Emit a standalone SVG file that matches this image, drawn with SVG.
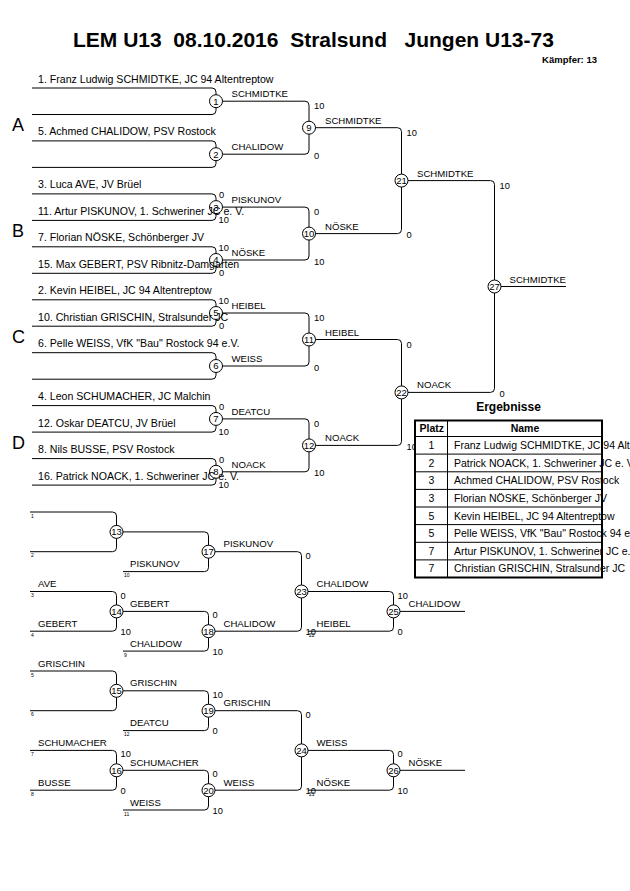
<svg xmlns="http://www.w3.org/2000/svg" width="630" height="891" viewBox="0 0 630 891">
<style>
text{font-family:"Liberation Sans",Arial,sans-serif;fill:#000}
.ln{fill:none;stroke:#000;stroke-width:1}
.nd circle{fill:#fff;stroke:#000;stroke-width:1}
.nd text{font-size:9.5px;text-anchor:middle}
.nm{font-size:10.6px}
.lb{font-size:9.6px}
.sc{font-size:9.3px}
.tn{font-size:5px}
.pool{font-size:18px}
.ttl{font-size:21px;font-weight:bold;white-space:pre}
.tb{font-size:10.5px}
.bd{font-weight:bold}
</style>
<rect width="630" height="891" fill="#fff"/>
<text class="ttl" x="73" y="47" xml:space="preserve">LEM U13  08.10.2016  Stralsund   Jungen U13-73</text>
<text class="bd" x="597" y="63" font-size="9.5" text-anchor="end">Kämpfer: 13</text>

<g id="connectors" class="ln">
<path d="M32 88H212Q216 88 216 92V110.5Q216 114.5 212 114.5H32"/>
<path d="M32 140.9H212Q216 140.9 216 144.9V163.4Q216 167.4 212 167.4H32"/>
<path d="M32 193.9H212Q216 193.9 216 197.9V216.4Q216 220.4 212 220.4H32"/>
<path d="M32 246.8H212Q216 246.8 216 250.8V269.3Q216 273.3 212 273.3H32"/>
<path d="M32 299.8H212Q216 299.8 216 303.8V322.2Q216 326.2 212 326.2H32"/>
<path d="M32 352.7H212Q216 352.7 216 356.7V375.2Q216 379.2 212 379.2H32"/>
<path d="M32 405.6H212Q216 405.6 216 409.6V428.1Q216 432.1 212 432.1H32"/>
<path d="M32 458.6H212Q216 458.6 216 462.6V481.1Q216 485.1 212 485.1H32"/>
<path d="M222 101.2H305Q309 101.2 309 105.2V150.2Q309 154.2 305 154.2H222"/>
<path d="M222 207.1H305Q309 207.1 309 211.1V256Q309 260 305 260H222"/>
<path d="M222 313H305Q309 313 309 317V362Q309 366 305 366H222"/>
<path d="M222 418.9H305Q309 418.9 309 422.9V467.8Q309 471.8 305 471.8H222"/>
<path d="M315 127.7H397.5Q401.5 127.7 401.5 131.7V229.6Q401.5 233.6 397.5 233.6H315"/>
<path d="M315 339.5H397.5Q401.5 339.5 401.5 343.5V441.4Q401.5 445.4 397.5 445.4H315"/>
<path d="M408 180.6H490.5Q494.5 180.6 494.5 184.6V388.4Q494.5 392.4 490.5 392.4H408"/>
<path d="M501 286.5H566"/>
<path d="M30 512H112.5Q116.5 512 116.5 516V547.7Q116.5 551.7 112.5 551.7H30"/>
<path d="M123 531.9H204.5Q208.5 531.9 208.5 535.9V567.6Q208.5 571.6 204.5 571.6H123"/>
<path d="M30 591.5H112.5Q116.5 591.5 116.5 595.5V627.2Q116.5 631.2 112.5 631.2H30"/>
<path d="M123 611.4H204.5Q208.5 611.4 208.5 615.4V647.1Q208.5 651.1 204.5 651.1H123"/>
<path d="M215 551.7H297.5Q301.5 551.7 301.5 555.7V627.2Q301.5 631.2 297.5 631.2H215"/>
<path d="M308 591.5H389.5Q393.5 591.5 393.5 595.5V627.2Q393.5 631.2 389.5 631.2H308"/>
<path d="M400 611.4H465"/>
<path d="M30 671H112.5Q116.5 671 116.5 675V706.7Q116.5 710.7 112.5 710.7H30"/>
<path d="M123 690.8H204.5Q208.5 690.8 208.5 694.8V726.6Q208.5 730.6 204.5 730.6H123"/>
<path d="M30 750.4H112.5Q116.5 750.4 116.5 754.4V786.2Q116.5 790.2 112.5 790.2H30"/>
<path d="M123 770.3H204.5Q208.5 770.3 208.5 774.3V806Q208.5 810 204.5 810H123"/>
<path d="M215 710.7H297.5Q301.5 710.7 301.5 714.7V786.2Q301.5 790.2 297.5 790.2H215"/>
<path d="M308 750.4H389.5Q393.5 750.4 393.5 754.4V786.2Q393.5 790.2 389.5 790.2H308"/>
<path d="M400 770.3H465"/>
</g>

<g id="nodes" class="nd">
<g id="m1"><circle cx="216" cy="101.2" r="6.5"/><text x="216" y="104.6">1</text></g>
<g id="m2"><circle cx="216" cy="154.2" r="6.5"/><text x="216" y="157.6">2</text></g>
<g id="m3"><circle cx="216" cy="207.1" r="6.5"/><text x="216" y="210.5">3</text></g>
<g id="m4"><circle cx="216" cy="260" r="6.5"/><text x="216" y="263.4">4</text></g>
<g id="m5"><circle cx="216" cy="313" r="6.5"/><text x="216" y="316.4">5</text></g>
<g id="m6"><circle cx="216" cy="366" r="6.5"/><text x="216" y="369.4">6</text></g>
<g id="m7"><circle cx="216" cy="418.9" r="6.5"/><text x="216" y="422.3">7</text></g>
<g id="m8"><circle cx="216" cy="471.8" r="6.5"/><text x="216" y="475.2">8</text></g>
<g id="m9"><circle cx="309" cy="127.7" r="6.5"/><text x="309" y="131.1">9</text></g>
<g id="m10"><circle cx="309" cy="233.6" r="6.5"/><text x="309" y="237">10</text></g>
<g id="m11"><circle cx="309" cy="339.5" r="6.5"/><text x="309" y="342.9">11</text></g>
<g id="m12"><circle cx="309" cy="445.4" r="6.5"/><text x="309" y="448.8">12</text></g>
<g id="m21"><circle cx="401.5" cy="180.6" r="6.5"/><text x="401.5" y="184">21</text></g>
<g id="m22"><circle cx="401.5" cy="392.4" r="6.5"/><text x="401.5" y="395.8">22</text></g>
<g id="m27"><circle cx="494.5" cy="286.5" r="6.5"/><text x="494.5" y="289.9">27</text></g>
<g id="m13"><circle cx="116.5" cy="531.9" r="6.5"/><text x="116.5" y="535.3">13</text></g>
<g id="m14"><circle cx="116.5" cy="611.4" r="6.5"/><text x="116.5" y="614.8">14</text></g>
<g id="m15"><circle cx="116.5" cy="690.8" r="6.5"/><text x="116.5" y="694.2">15</text></g>
<g id="m16"><circle cx="116.5" cy="770.3" r="6.5"/><text x="116.5" y="773.7">16</text></g>
<g id="m17"><circle cx="208.5" cy="551.7" r="6.5"/><text x="208.5" y="555.1">17</text></g>
<g id="m18"><circle cx="208.5" cy="631.2" r="6.5"/><text x="208.5" y="634.6">18</text></g>
<g id="m19"><circle cx="208.5" cy="710.7" r="6.5"/><text x="208.5" y="714.1">19</text></g>
<g id="m20"><circle cx="208.5" cy="790.2" r="6.5"/><text x="208.5" y="793.6">20</text></g>
<g id="m23"><circle cx="301.5" cy="591.5" r="6.5"/><text x="301.5" y="594.9">23</text></g>
<g id="m24"><circle cx="301.5" cy="750.4" r="6.5"/><text x="301.5" y="753.8">24</text></g>
<g id="m25"><circle cx="393.5" cy="611.4" r="6.5"/><text x="393.5" y="614.8">25</text></g>
<g id="m26"><circle cx="393.5" cy="770.3" r="6.5"/><text x="393.5" y="773.7">26</text></g>
</g>

<g id="pools" class="pool">
<text x="12" y="131.2">A</text>
<text x="12" y="237.1">B</text>
<text x="12" y="343">C</text>
<text x="12" y="448.9">D</text>
</g>

<g id="entries" class="nm">
<text x="38" y="82.5">1. Franz Ludwig SCHMIDTKE, JC 94 Altentreptow</text>
<text x="38" y="135.4">5. Achmed CHALIDOW, PSV Rostock</text>
<text x="38" y="188.4">3. Luca AVE, JV Brüel</text>
<text x="38" y="214.9">11. Artur PISKUNOV, 1. Schweriner JC e. V.</text>
<text x="38" y="241.3">7. Florian NÖSKE, Schönberger JV</text>
<text x="38" y="267.8">15. Max GEBERT, PSV Ribnitz-Damgarten</text>
<text x="38" y="294.3">2. Kevin HEIBEL, JC 94 Altentreptow</text>
<text x="38" y="320.7">10. Christian GRISCHIN, Stralsunder JC</text>
<text x="38" y="347.2">6. Pelle WEISS, VfK &quot;Bau&quot; Rostock 94 e.V.</text>
<text x="38" y="400.1">4. Leon SCHUMACHER, JC Malchin</text>
<text x="38" y="426.6">12. Oskar DEATCU, JV Brüel</text>
<text x="38" y="453.1">8. Nils BUSSE, PSV Rostock</text>
<text x="38" y="479.6">16. Patrick NOACK, 1. Schweriner JC e. V.</text>
</g>

<g id="winners" class="lb">
<text x="231.5" y="97.2">SCHMIDTKE</text>
<text x="231.5" y="150.2">CHALIDOW</text>
<text x="231.5" y="203.1">PISKUNOV</text>
<text x="231.5" y="256">NÖSKE</text>
<text x="231.5" y="309">HEIBEL</text>
<text x="231.5" y="362">WEISS</text>
<text x="231.5" y="414.9">DEATCU</text>
<text x="231.5" y="467.8">NOACK</text>
<text x="325" y="123.7">SCHMIDTKE</text>
<text x="325" y="229.6">NÖSKE</text>
<text x="325" y="335.5">HEIBEL</text>
<text x="325" y="441.4">NOACK</text>
<text x="417" y="176.6">SCHMIDTKE</text>
<text x="417" y="388.4">NOACK</text>
<text x="509.5" y="282.5">SCHMIDTKE</text>
<text x="38" y="587">AVE</text>
<text x="38" y="626.7">GEBERT</text>
<text x="38" y="666.5">GRISCHIN</text>
<text x="38" y="745.9">SCHUMACHER</text>
<text x="38" y="785.7">BUSSE</text>
<text x="130" y="567.1">PISKUNOV</text>
<text x="130" y="646.6">CHALIDOW</text>
<text x="130" y="726.1">DEATCU</text>
<text x="130" y="805.5">WEISS</text>
<text x="130" y="606.9">GEBERT</text>
<text x="130" y="686.3">GRISCHIN</text>
<text x="130" y="765.8">SCHUMACHER</text>
<text x="223.5" y="547.2">PISKUNOV</text>
<text x="223.5" y="626.7">CHALIDOW</text>
<text x="223.5" y="706.2">GRISCHIN</text>
<text x="223.5" y="785.7">WEISS</text>
<text x="316.5" y="587">CHALIDOW</text>
<text x="316.5" y="745.9">WEISS</text>
<text x="316.5" y="626.7">HEIBEL</text>
<text x="316.5" y="785.7">NÖSKE</text>
<text x="408.5" y="606.9">CHALIDOW</text>
<text x="408.5" y="765.8">NÖSKE</text>
</g>

<g id="scores" class="sc">
<text x="219" y="198.4">0</text><text x="218.5" y="222.9">10</text>
<text x="218.5" y="251.3">10</text><text x="219" y="275.8">0</text>
<text x="218.5" y="304.3">10</text><text x="219" y="328.7">0</text>
<text x="219" y="410.1">0</text><text x="218.5" y="434.6">10</text>
<text x="219" y="463.1">0</text><text x="218.5" y="487.6">10</text>
<text x="314" y="109.2">10</text><text x="314" y="158.7">0</text>
<text x="314" y="215.1">0</text><text x="314" y="264.5">10</text>
<text x="314" y="321">10</text><text x="314" y="370.5">0</text>
<text x="314" y="426.9">0</text><text x="314" y="476.3">10</text>
<text x="406.5" y="135.7">10</text><text x="406.5" y="238.1">0</text>
<text x="406.5" y="347.5">0</text><text x="406.5" y="449.9">10</text>
<text x="499.5" y="188.6">10</text><text x="499.5" y="396.9">0</text>
<text x="120.5" y="598.5">0</text><text x="120.5" y="634.7">10</text>
<text x="212.5" y="618.4">0</text><text x="212.5" y="654.6">10</text>
<text x="305.5" y="558.7">0</text><text x="305.5" y="634.7">10</text>
<text x="397.5" y="598.5">10</text><text x="397.5" y="634.7">0</text>
<text x="212.5" y="697.8">10</text><text x="212.5" y="734.1">0</text>
<text x="120.5" y="757.4">10</text><text x="120.5" y="793.7">0</text>
<text x="212.5" y="777.3">0</text><text x="212.5" y="813.5">10</text>
<text x="305.5" y="717.7">0</text><text x="305.5" y="793.7">10</text>
<text x="397.5" y="757.4">0</text><text x="397.5" y="793.7">10</text>
</g>

<g id="seeds" class="tn">
<text x="31" y="517.5">1</text>
<text x="31" y="557.2">2</text>
<text x="124" y="577.1">10</text>
<text x="31" y="597">3</text>
<text x="31" y="636.7">4</text>
<text x="124" y="656.6">9</text>
<text x="31" y="676.5">5</text>
<text x="31" y="716.2">6</text>
<text x="124" y="736.1">12</text>
<text x="31" y="755.9">7</text>
<text x="31" y="795.7">8</text>
<text x="124" y="815.5">11</text>
<text x="309" y="636.7">22</text>
<text x="309" y="795.7">21</text>
</g>

<g id="results">
<text class="bd" x="508.5" y="410.5" font-size="12" text-anchor="middle">Ergebnisse</text>
<rect x="415" y="420.5" width="187" height="157" fill="#fff" stroke="#000" stroke-width="2"/>
<g class="ln">
<path d="M447.5 420.5V577.5M415 436.5H602M415 454.1H602M415 471.8H602M415 489.4H602M415 507H602M415 524.6H602M415 542.3H602M415 559.9H602"/>
</g>
<g class="tb">
<text class="bd" x="419.5" y="431.8">Platz</text>
<text class="bd" x="525" y="431.8" text-anchor="middle">Name</text>
<g text-anchor="middle">
<text x="431.5" y="449">1</text>
<text x="431.5" y="466.6">2</text>
<text x="431.5" y="484.3">3</text>
<text x="431.5" y="501.9">3</text>
<text x="431.5" y="519.5">5</text>
<text x="431.5" y="537.1">5</text>
<text x="431.5" y="554.8">7</text>
<text x="431.5" y="572.4">7</text>
</g>
<text x="454" y="449">Franz Ludwig SCHMIDTKE, JC 94 Altentreptow</text>
<text x="454" y="466.6">Patrick NOACK, 1. Schweriner JC e. V.</text>
<text x="454" y="484.3">Achmed CHALIDOW, PSV Rostock</text>
<text x="454" y="501.9">Florian NÖSKE, Schönberger JV</text>
<text x="454" y="519.5">Kevin HEIBEL, JC 94 Altentreptow</text>
<text x="454" y="537.1">Pelle WEISS, VfK &quot;Bau&quot; Rostock 94 e.V.</text>
<text x="454" y="554.8">Artur PISKUNOV, 1. Schweriner JC e. V.</text>
<text x="454" y="572.4">Christian GRISCHIN, Stralsunder JC</text>
</g>
</g>
</svg>
